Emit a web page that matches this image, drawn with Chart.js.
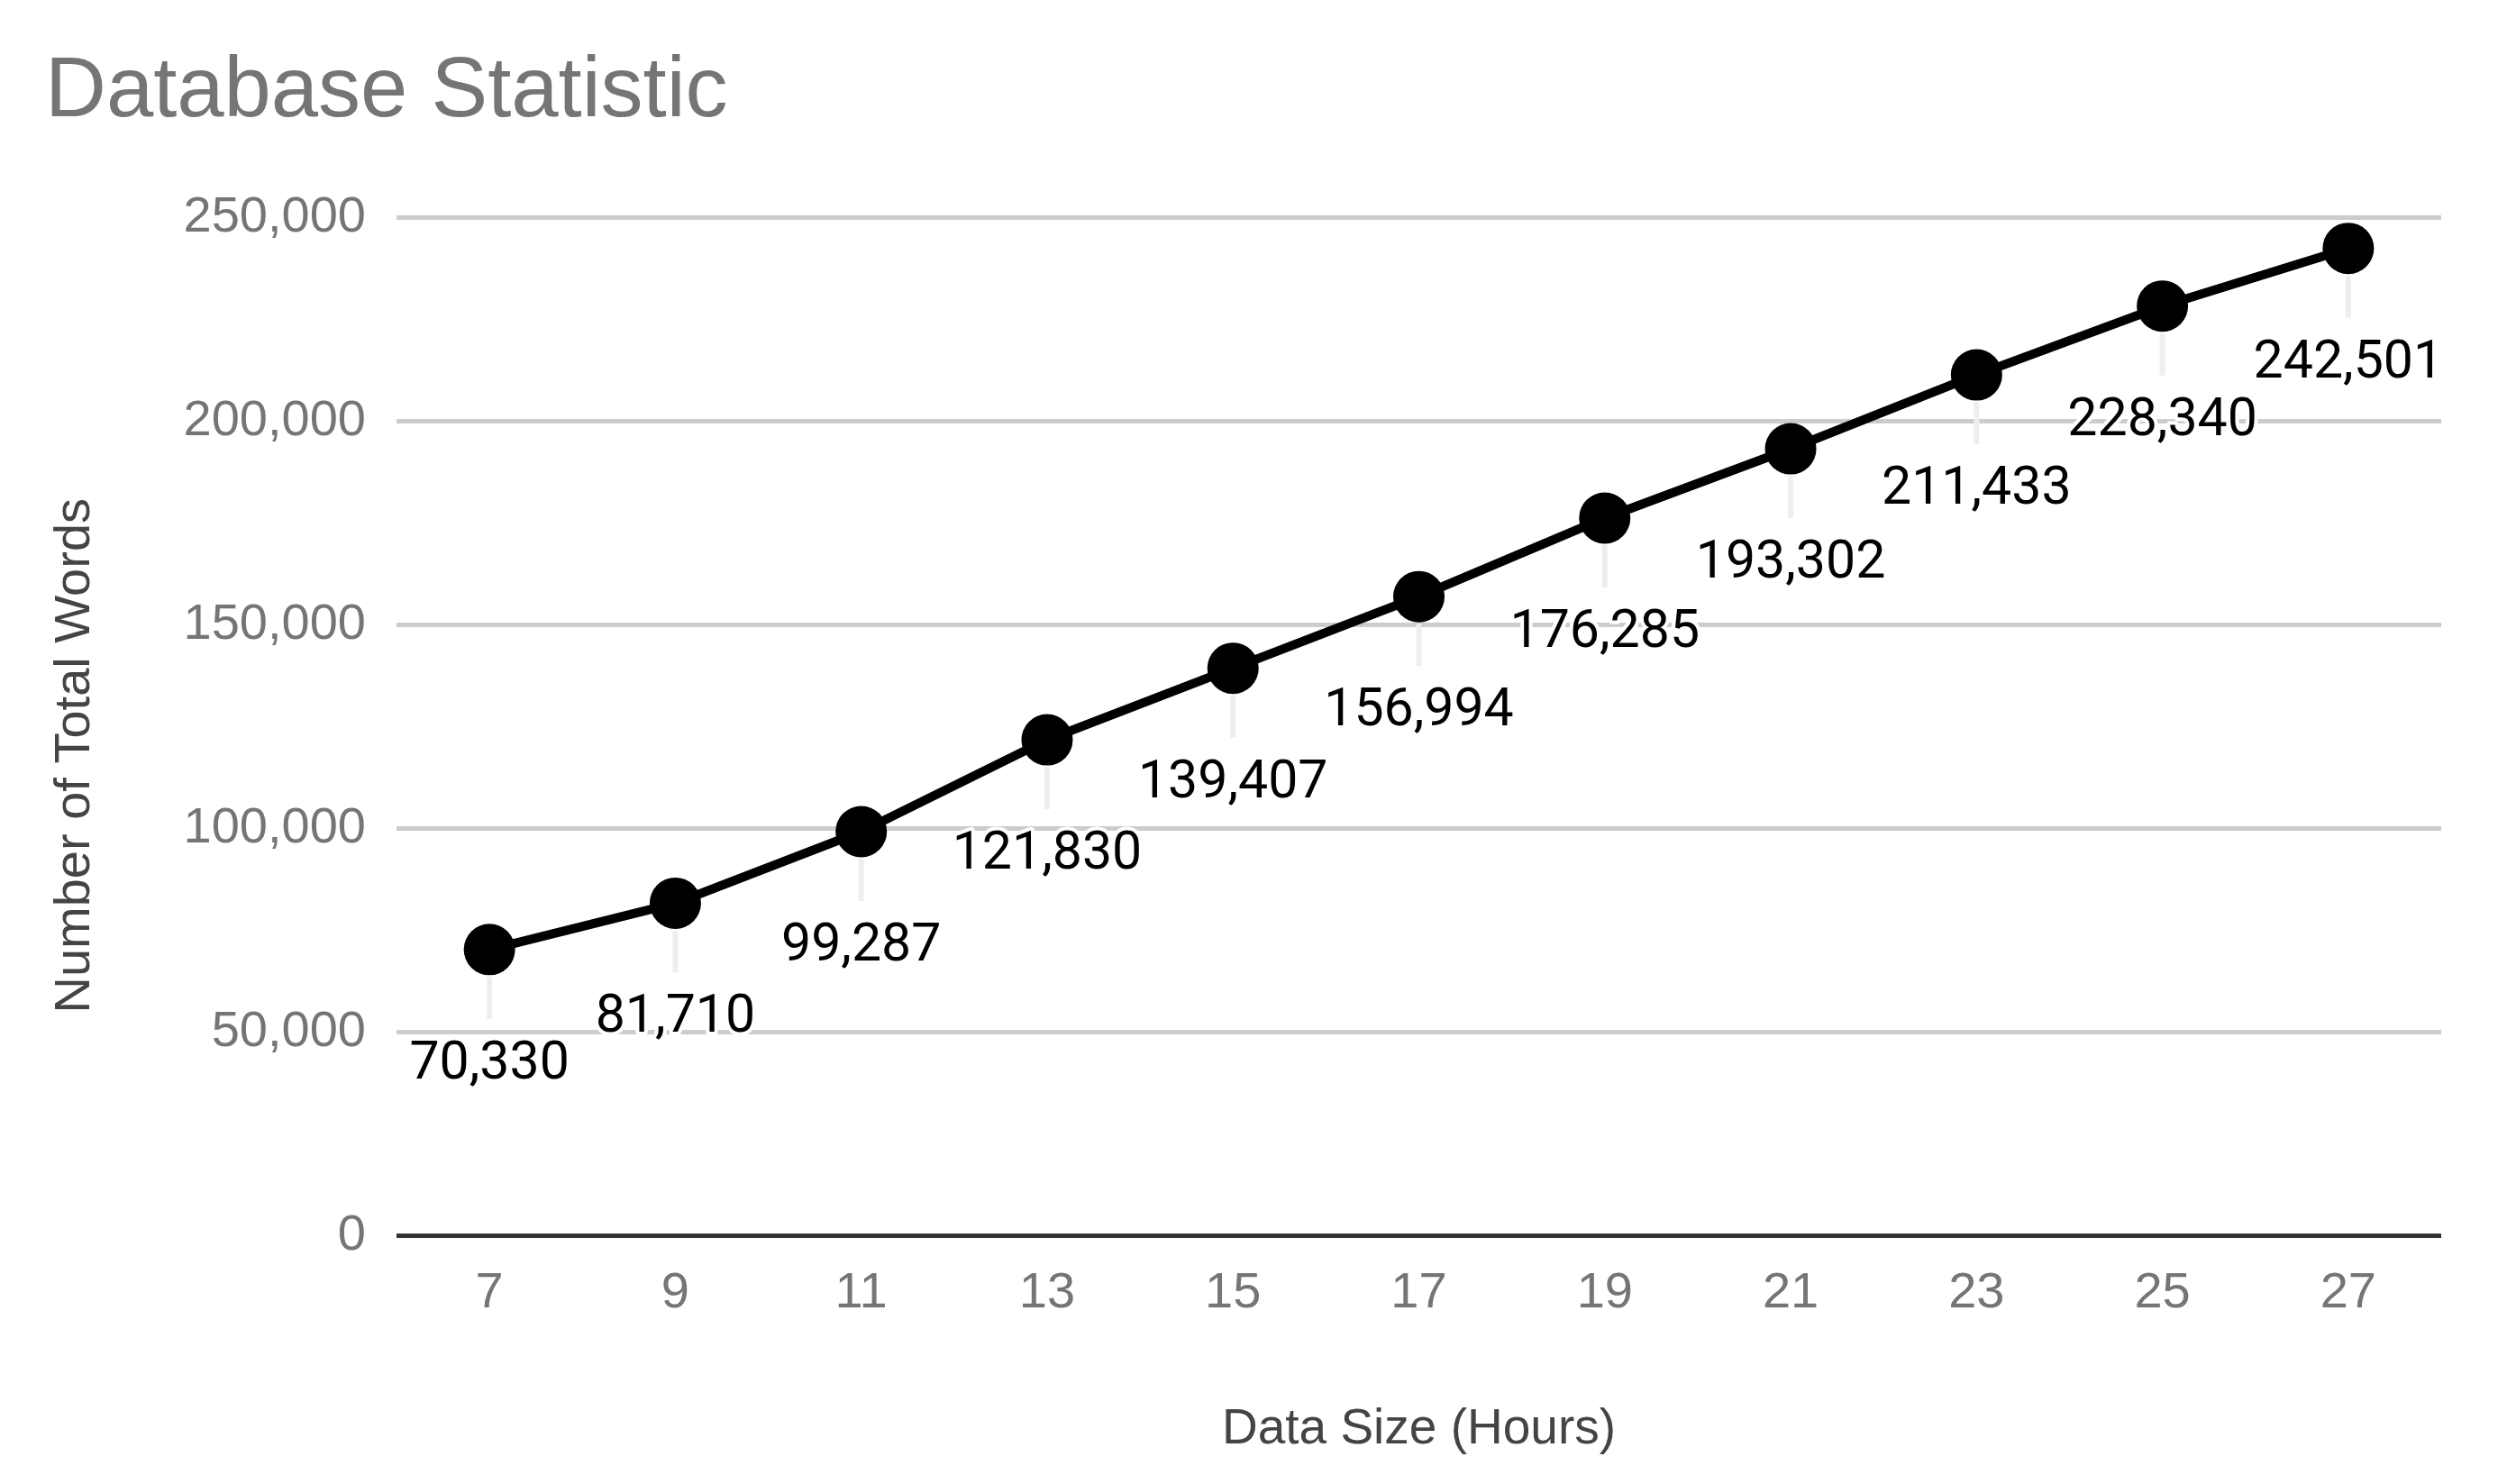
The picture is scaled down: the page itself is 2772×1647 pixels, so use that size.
<!DOCTYPE html>
<html>
<head>
<meta charset="utf-8">
<title>Database Statistic</title>
<script src="https://cdn.jsdelivr.net/npm/chart.js@4.4.1/dist/chart.umd.min.js"></script>
<style>
  html, body { margin: 0; padding: 0; background: #fff; }
  canvas { display: block; }
</style>
</head>
<body>
<canvas id="chart" width="2772" height="1647" style="width:2772px;height:1647px"></canvas>
<script>
const hours = ['7', '9', '11', '13', '15', '17', '19', '21', '23', '25', '27'];
const totalWords = [70330, 81710, 99287, 121830, 139407, 156994, 176285, 193302, 211433, 228340, 242501];
const yTicks = [0, 50000, 100000, 150000, 200000, 250000];

const chartTitle = 'Database Statistic';
const xTitle = 'Data Size (Hours)';
const yTitle = 'Number of Total Words';

const SANS = '"Liberation Sans", Arial, sans-serif';

// value labels under each point, with a short light leader line
const pointLabels = {
  id: 'pointLabels',
  afterDatasetsDraw(chart) {
    const ctx = chart.ctx;
    const meta = chart.getDatasetMeta(0);
    ctx.save();
    meta.data.forEach((pt, i) => {
      ctx.strokeStyle = '#eeeeee';
      ctx.lineWidth = 6;
      ctx.beginPath();
      ctx.moveTo(pt.x, pt.y + 30);
      ctx.lineTo(pt.x, pt.y + 77);
      ctx.stroke();

      const text = totalWords[i].toLocaleString('en-US');
      ctx.font = '59px Roboto';
      ctx.textAlign = 'center';
      ctx.textBaseline = 'alphabetic';
      ctx.lineJoin = 'round';
      ctx.lineWidth = 8;
      ctx.strokeStyle = '#ffffff';
      ctx.strokeText(text, pt.x, pt.y + 143);
      ctx.fillStyle = '#000000';
      ctx.fillText(text, pt.x, pt.y + 143);
    });
    ctx.restore();
  }
};

// y axis title sits a bit below the middle of the plot in the original
const leftTitle = {
  id: 'leftTitle',
  afterDraw(chart) {
    const { ctx, chartArea } = chart;
    ctx.save();
    ctx.translate(84, (chartArea.top + chartArea.bottom) / 2 + 32);
    ctx.rotate(-Math.PI / 2);
    ctx.font = '56px ' + SANS;
    ctx.fillStyle = '#444444';
    ctx.textAlign = 'center';
    ctx.textBaseline = 'middle';
    ctx.fillText(yTitle, 0, 0);
    ctx.restore();
  }
};

new Chart(document.getElementById('chart'), {
  type: 'line',
  data: {
    labels: hours,
    datasets: [{
      data: totalWords,
      borderColor: '#000000',
      borderWidth: 10,
      pointRadius: 28.5,
      pointBorderWidth: 0,
      pointBackgroundColor: '#000000',
      tension: 0
    }]
  },
  options: {
    responsive: false,
    animation: false,
    devicePixelRatio: 1,
    layout: { padding: { left: 50, right: 63, top: 0, bottom: 0 } },
    plugins: {
      legend: { display: false },
      tooltip: { enabled: false },
      title: {
        display: true,
        text: chartTitle,
        align: 'start',
        color: '#757575',
        font: { family: SANS, size: 94, weight: 'normal' },
        padding: { top: 47, bottom: 82 }
      }
    },
    scales: {
      x: {
        offset: true,
        grid: { display: false },
        border: { display: false },
        ticks: {
          color: '#757575',
          font: { family: SANS, size: 56 },
          padding: 22,
          maxRotation: 0
        },
        title: {
          display: true,
          text: xTitle,
          color: '#444444',
          font: { family: SANS, size: 55 },
          padding: { top: 84, bottom: 27 }
        },
        afterFit: (s) => { s.height = 275.3; }
      },
      y: {
        min: 0,
        max: 250000,
        afterBuildTicks: (s) => { s.ticks = yTicks.map((v) => ({ value: v })); },
        grid: {
          color: (c) => (c.tick && c.tick.value === 0 ? '#333333' : '#cccccc'),
          lineWidth: 5,
          drawTicks: false
        },
        border: { display: false },
        ticks: {
          color: '#757575',
          font: { family: SANS, size: 56 },
          padding: 34,
          callback: (v) => v.toLocaleString('en-US')
        },
        afterFit: (s) => { s.width = 390; }
      }
    }
  },
  plugins: [pointLabels, leftTitle]
});
</script>
</body>
</html>
